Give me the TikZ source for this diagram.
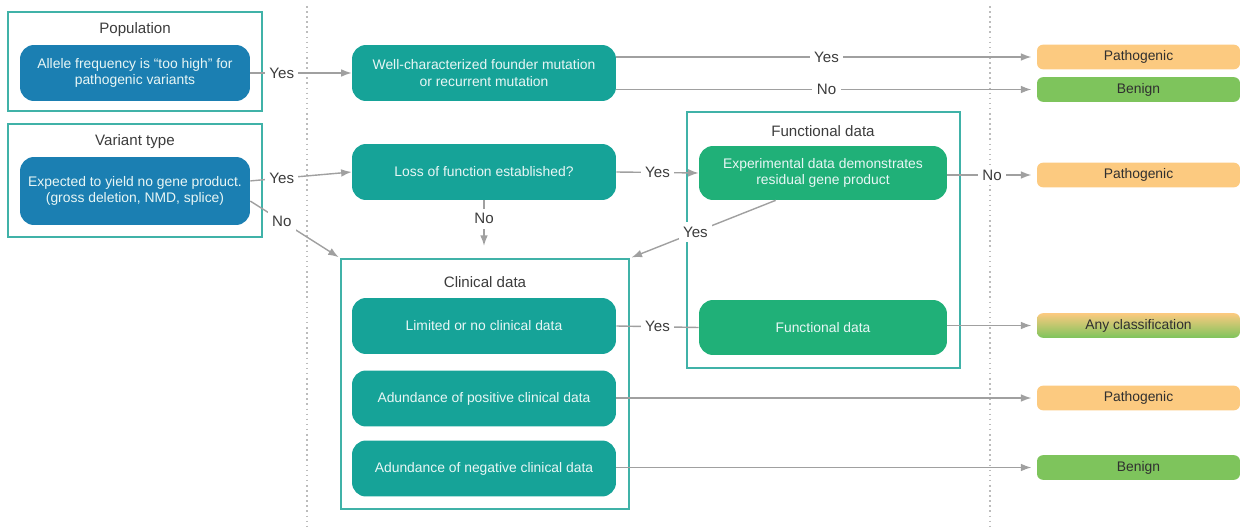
\documentclass[tikz,border=0pt]{standalone}
\usepackage{fontspec}
\setmainfont{Liberation Sans}
\usetikzlibrary{arrows.meta}

\definecolor{popblue}{RGB}{27,127,178}
\definecolor{qteal}{RGB}{22,163,152}
\definecolor{funcgreen}{RGB}{32,176,120}
\definecolor{frameteal}{RGB}{64,178,168}
\definecolor{pathocol}{RGB}{252,202,128}
\definecolor{benigncol}{RGB}{126,196,92}
\definecolor{linegray}{RGB}{160,160,160}
\definecolor{labelgray}{RGB}{60,60,60}

\begin{document}
\begin{tikzpicture}[x=0.02cm,y=-0.02cm,>={Latex[length=6pt,width=4.4pt]}]
    \useasboundingbox (0,0) rectangle (1244,527);

        % dotted separators
        \coordinate (sepAtop) at (307,6);
        \coordinate (sepAbot) at (307,527);
        \coordinate (sepBtop) at (990,6);
        \coordinate (sepBbot) at (990,527);
        \draw [linegray!70,dotted,line width=0.9pt] (sepAtop) -- (sepAbot);
        \draw [linegray!70,dotted,line width=0.9pt] (sepBtop) -- (sepBbot);

        % frames
        \begin{scope}[every node/.style={draw=frameteal,line width=1pt,inner sep=0pt}]
            \node[minimum width=5.08cm,minimum height=1.98cm] (popframe) at (135,61.5) {};
            \node[minimum width=5.08cm,minimum height=2.26cm] (varframe) at (135,180.5) {};
            \node[minimum width=5.76cm,minimum height=5.00cm] (clinframe) at (485,384) {};
            \node[minimum width=5.46cm,minimum height=5.12cm] (funcframe) at (823.5,240) {};
        \end{scope}

        \begin{scope}[every node/.style={text=labelgray,font=\fontsize{8.6}{10}\selectfont}]
            \node (poptitle) at (135,30) {Population};
            \node (vartitle) at (135,142) {Variant type};
            \node (clintitle) at (485,282) {Clinical data};
            \node (functitle) at (823,131) {Functional data};
        \end{scope}

        % question boxes
        \begin{scope}[every node/.style={rounded corners=0.28cm,align=center,text=white!90!qteal,
                      font=\fontsize{7.9}{9.4}\selectfont,minimum height=1.12cm}]
            \node[fill=popblue,minimum width=4.6cm] (allele) at (135,73) {Allele frequency is ``too high'' for\\pathogenic variants};
            \node[fill=popblue,minimum width=4.6cm,minimum height=1.36cm] (expect) at (135,191) {Expected to yield no gene product.\\(gross deletion, NMD, splice)};
            \node[fill=qteal,minimum width=5.28cm] (well) at (484,73) {Well-characterized founder mutation\\or recurrent mutation};
            \node[fill=qteal,minimum width=5.28cm] (lof) at (484,172) {Loss of function established?};
            \node[fill=qteal,minimum width=5.28cm] (limited) at (484,326) {Limited or no clinical data};
            \node[fill=qteal,minimum width=5.28cm] (positive) at (484,398.5) {Adundance of positive clinical data};
            \node[fill=qteal,minimum width=5.28cm] (negative) at (484,468.5) {Adundance of negative clinical data};
            \node[fill=funcgreen,minimum width=4.96cm,minimum height=1.08cm] (exp) at (823,173) {Experimental data demonstrates\\residual gene product};
            \node[fill=funcgreen,minimum width=4.96cm,minimum height=1.1cm] (func) at (823,327.5) {Functional data};
        \end{scope}

        % classifications
        \begin{scope}[every node/.style={rounded corners=0.12cm,text=labelgray!80!black,
                      font=\fontsize{7.9}{9.4}\selectfont,minimum width=4.06cm,minimum height=0.48cm}]
            \node[fill=pathocol] (patho1) at (1138.5,57) {Pathogenic};
            \node[fill=benigncol] (benign1) at (1138.5,89.5) {Benign};
            \node[fill=pathocol] (patho2) at (1138.5,175) {Pathogenic};
            \node[top color=pathocol,bottom color=benigncol] (anyclass) at (1138.5,325.5) {Any classification};
            \node[fill=pathocol] (patho3) at (1138.5,398) {Pathogenic};
            \node[fill=benigncol] (benign2) at (1138.5,467.5) {Benign};
        \end{scope}

        \begin{scope}[every node/.style={fill=white,inner sep=2.5pt,text=labelgray,font=\fontsize{8.6}{10}\selectfont},
                      every edge/.style={draw=linegray,line width=0.8pt}]
            \path [->] (allele.east) edge node[pos=0.31] {Yes} (well.west);
            \path [->] (expect.5) edge node[pos=0.31] {Yes} (lof.west);
            \path [->] (expect.-5) edge [shorten >=1pt] node[pos=0.35] {No} (clinframe.north west);
            \path [->] (well.east |- patho1.west) edge [shorten >=3pt] node {Yes} (patho1.west);
            \path [->] (well.east |- benign1.west) edge [shorten >=3pt] node {No} (benign1.west);
            \path [->] (lof.east) edge node {Yes} (exp.west);
            \path [->] (lof.south) edge [shorten >=7pt] node[pos=0.32] {No} (lof.south |- clinframe.north);
            \path [->] (exp.-150) edge [shorten >=1pt] node[pos=0.55] {Yes} (clinframe.north east);
            \path [->] (exp.east |- patho2.west) edge [shorten >=3pt] node {No} (patho2.west);
            \path [-] (limited.east) edge node {Yes} (func.west);
            \path [->] (func.east |- anyclass.west) edge [shorten >=3pt] (anyclass.west);
            \path [->] (positive.east |- patho3.west) edge [shorten >=3pt] (patho3.west);
            \path [->] (negative.east |- benign2.west) edge [shorten >=3pt] (benign2.west);
        \end{scope}

    \end{tikzpicture}
\end{document}
